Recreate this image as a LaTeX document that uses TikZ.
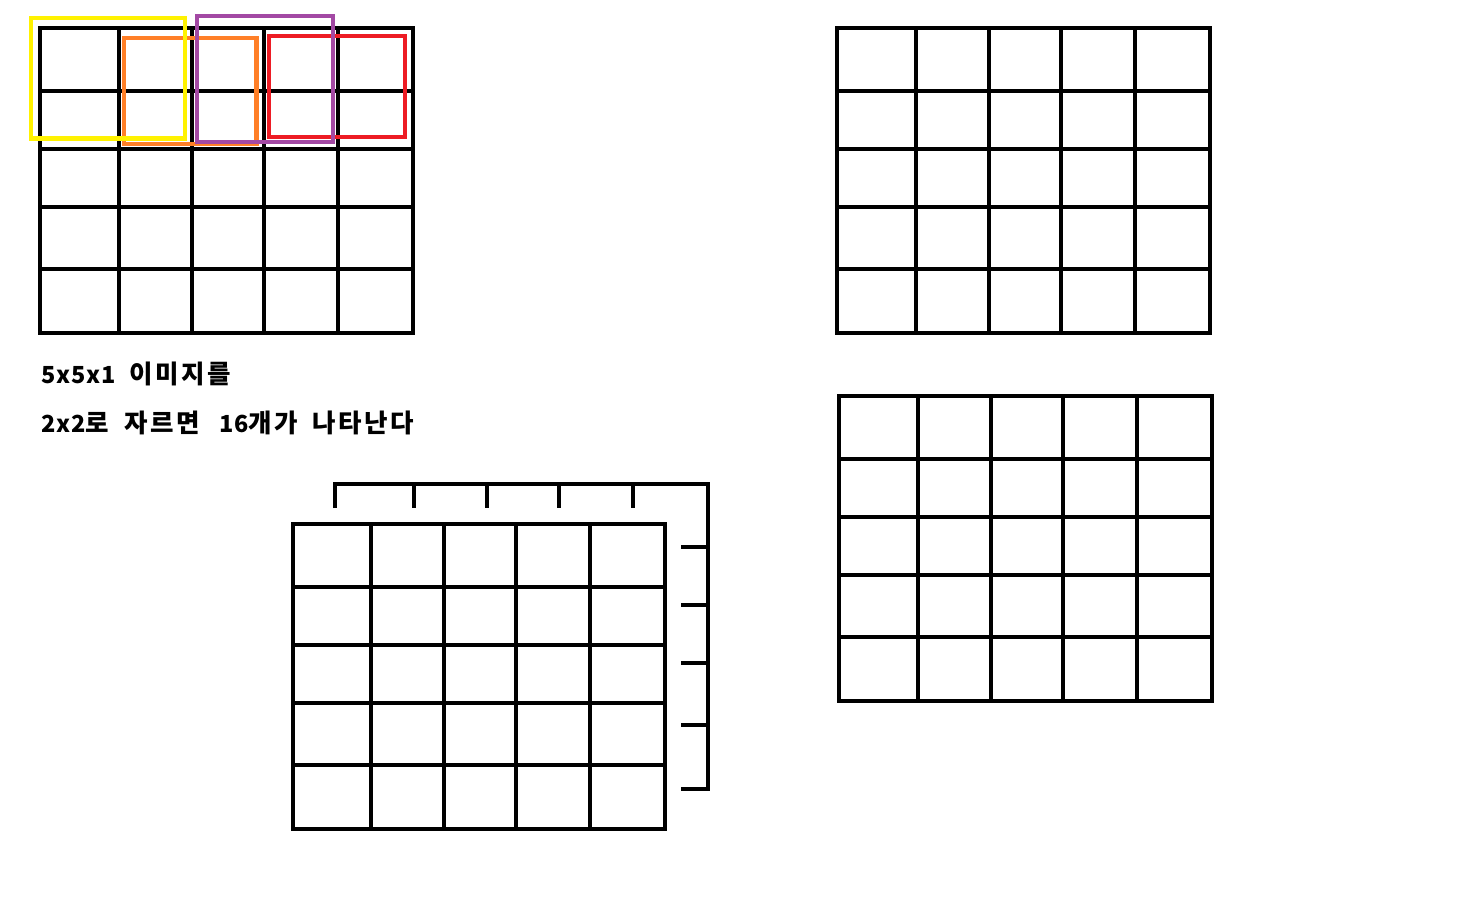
\documentclass[tikz,border=0pt]{standalone}
\usepackage{fontspec}
\newfontfamily\krfont[LetterSpace=10]{Noto Sans CJK KR}
\newfontfamily\latfont[LetterSpace=4]{Noto Sans CJK KR}
\newcommand\ha[1]{{\krfont\bfseries\fontsize{25.5}{30}\selectfont #1}}
\newcommand\la[1]{{\latfont\bfseries\fontsize{23.5}{28}\selectfont #1}}
\definecolor{pyellow}{HTML}{FFF200}
\definecolor{porange}{HTML}{FF7F27}
\definecolor{ppurple}{HTML}{A349A4}
\definecolor{pred}{HTML}{ED1C24}
\newcommand\mygrid[6]{%
  \foreach \xx in {#1} \draw[gridline] (\xx,#5) -- (\xx,#6);
  \foreach \yy in {#2} \draw[gridline] (#3,\yy) -- (#4,\yy);
}
\begin{document}
\begin{tikzpicture}[x=1pt,y=-1pt,
  gridline/.style={line width=4.4pt, black, line cap=rect},
  backline/.style={line width=4.4pt, black, line join=miter},
  selbox/.style={line width=4.3pt},
  label/.style={anchor=base west, inner sep=0pt}]
\useasboundingbox[fill=white] (0,0) rectangle (1475,900);

% top-left grid
\mygrid{40,119,192,264,338,413}{28,91,149,207,269,333}{40}{413}{28}{333}
% top-right grid
\mygrid{837,916,989,1061,1135,1210}{28,91,149,207,269,333}{837}{1210}{28}{333}
% bottom-right grid
\mygrid{839,918,991,1063,1137,1212}{396,459,517,575,637,701}{839}{1212}{396}{701}
% bottom front grid
\mygrid{293,371,444,516,590,665}{524,587,645,703,765,829}{293}{665}{524}{829}

% back grid (partially hidden)
\coordinate (b1) at (335,508);
\coordinate (b2) at (335,484);
\coordinate (b3) at (708,484);
\coordinate (b4) at (708,789);
\coordinate (b5) at (681,789);
\draw[backline] (b1) -- (b2) -- (b3) -- (b4) -- (b5);
\foreach \xx in {414,487,559,633} \draw[backline] (\xx,484) -- (\xx,508);
\foreach \yy in {547,605,663,725} \draw[backline] (681,\yy) -- (708,\yy);

% selection boxes
\draw[selbox, porange] (124,38) rectangle (256.5,144);
\draw[selbox, pyellow] (31,18) rectangle (185,138.5);
\draw[selbox, pred] (269,36) rectangle (405,137);
\draw[selbox, ppurple] (197,16) rectangle (333,142);

% text
\node[label] (t1) at (41,383) {\makebox[88pt][l]{\la{5x5x1}}\ha{이미지를}};
\node[label] (t2) at (41,432) {\makebox[83pt][l]{\la{2x2}\ha{로}}\makebox[95pt][l]{\ha{자르면}}\makebox[93.3pt][l]{\la{16}\ha{개가}}\ha{나타난다}};
\end{tikzpicture}
\end{document}
